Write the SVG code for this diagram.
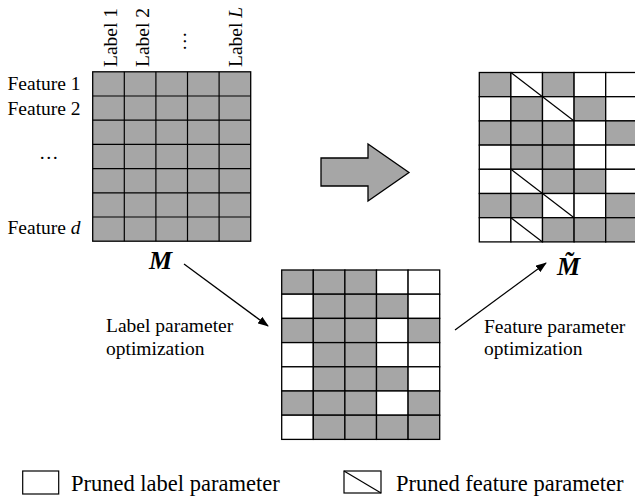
<svg xmlns="http://www.w3.org/2000/svg" width="635" height="498" viewBox="0 0 635 498">
<defs>
<style>
.t{font-family:"Liberation Serif","Times New Roman",serif;font-size:19.5px;fill:#000}
.lg{font-size:22.5px}
.it{font-style:italic}
.bm{font-family:"Liberation Serif","Times New Roman",serif;font-size:26px;font-weight:bold;font-style:italic;fill:#000}
.g{fill:#a6a6a6;stroke:#000;stroke-width:1.3}
.w{fill:#fff;stroke:#000;stroke-width:1.3}
.d{stroke:#000;stroke-width:1.2}
.c{stroke:#000;stroke-width:1.3;fill:none}
</style>
<marker id="ah" markerUnits="userSpaceOnUse" markerWidth="11" markerHeight="8" refX="10" refY="4" orient="auto">
<path d="M0,0 L11,4 L0,8 z" fill="#000"/>
</marker>
</defs>
<rect width="635" height="498" fill="#fff"/>

<g id="matrix-M">
<g transform="translate(92.7,71.8)">
<rect class="g" x="0" y="0" width="158" height="169.4"/>
<g class="d">
<line x1="31.6" y1="0" x2="31.6" y2="169.4"/><line x1="63.2" y1="0" x2="63.2" y2="169.4"/><line x1="94.8" y1="0" x2="94.8" y2="169.4"/><line x1="126.4" y1="0" x2="126.4" y2="169.4"/>
<line x1="0" y1="24.2" x2="158" y2="24.2"/><line x1="0" y1="48.4" x2="158" y2="48.4"/><line x1="0" y1="72.6" x2="158" y2="72.6"/><line x1="0" y1="96.8" x2="158" y2="96.8"/><line x1="0" y1="121" x2="158" y2="121"/><line x1="0" y1="145.2" x2="158" y2="145.2"/>
</g>
</g>
<text class="t" transform="translate(117,67) rotate(-90)">Label 1</text>
<text class="t" transform="translate(149,67) rotate(-90)">Label 2</text>
<text class="t" transform="translate(185.5,51) rotate(-90)">…</text>
<text class="t" transform="translate(242,67) rotate(-90)">Label <tspan class="it">L</tspan></text>
<text class="t" x="7.5" y="90">Feature 1</text>
<text class="t" x="7.5" y="115">Feature 2</text>
<text class="t" x="39" y="159">…</text>
<text class="t" x="7.5" y="233.5">Feature <tspan class="it">d</tspan></text>
<text class="bm" x="149" y="268.5">M</text>
</g>

<g id="big-arrow">
<polygon points="321,158 368,158 368,144 409,172.5 368,201 368,186 321,186" fill="#a6a6a6" stroke="#000" stroke-width="1.3"/>
</g>

<g id="matrix-mid" transform="translate(281.7,270)">
<rect class="g" x="0" y="0" width="31.6" height="24.2"/><rect class="g" x="31.6" y="0" width="31.6" height="24.2"/><rect class="g" x="63.2" y="0" width="31.6" height="24.2"/><rect class="w" x="94.8" y="0" width="31.6" height="24.2"/><rect class="w" x="126.4" y="0" width="31.6" height="24.2"/>
<rect class="w" x="0" y="24.2" width="31.6" height="24.2"/><rect class="g" x="31.6" y="24.2" width="31.6" height="24.2"/><rect class="g" x="63.2" y="24.2" width="31.6" height="24.2"/><rect class="g" x="94.8" y="24.2" width="31.6" height="24.2"/><rect class="w" x="126.4" y="24.2" width="31.6" height="24.2"/>
<rect class="g" x="0" y="48.4" width="31.6" height="24.2"/><rect class="g" x="31.6" y="48.4" width="31.6" height="24.2"/><rect class="g" x="63.2" y="48.4" width="31.6" height="24.2"/><rect class="w" x="94.8" y="48.4" width="31.6" height="24.2"/><rect class="g" x="126.4" y="48.4" width="31.6" height="24.2"/>
<rect class="w" x="0" y="72.6" width="31.6" height="24.2"/><rect class="g" x="31.6" y="72.6" width="31.6" height="24.2"/><rect class="g" x="63.2" y="72.6" width="31.6" height="24.2"/><rect class="w" x="94.8" y="72.6" width="31.6" height="24.2"/><rect class="w" x="126.4" y="72.6" width="31.6" height="24.2"/>
<rect class="w" x="0" y="96.8" width="31.6" height="24.2"/><rect class="g" x="31.6" y="96.8" width="31.6" height="24.2"/><rect class="g" x="63.2" y="96.8" width="31.6" height="24.2"/><rect class="g" x="94.8" y="96.8" width="31.6" height="24.2"/><rect class="w" x="126.4" y="96.8" width="31.6" height="24.2"/>
<rect class="g" x="0" y="121" width="31.6" height="24.2"/><rect class="g" x="31.6" y="121" width="31.6" height="24.2"/><rect class="g" x="63.2" y="121" width="31.6" height="24.2"/><rect class="w" x="94.8" y="121" width="31.6" height="24.2"/><rect class="g" x="126.4" y="121" width="31.6" height="24.2"/>
<rect class="w" x="0" y="145.2" width="31.6" height="24.2"/><rect class="g" x="31.6" y="145.2" width="31.6" height="24.2"/><rect class="g" x="63.2" y="145.2" width="31.6" height="24.2"/><rect class="g" x="94.8" y="145.2" width="31.6" height="24.2"/><rect class="g" x="126.4" y="145.2" width="31.6" height="24.2"/>
</g>

<g id="matrix-Mtilde">
<g transform="translate(479.3,72.5)">
<rect class="g" x="0" y="0" width="31.6" height="24.2"/><rect class="w" x="31.6" y="0" width="31.6" height="24.2"/><rect class="g" x="63.2" y="0" width="31.6" height="24.2"/><rect class="w" x="94.8" y="0" width="31.6" height="24.2"/><rect class="w" x="126.4" y="0" width="31.6" height="24.2"/>
<rect class="w" x="0" y="24.2" width="31.6" height="24.2"/><rect class="g" x="31.6" y="24.2" width="31.6" height="24.2"/><rect class="w" x="63.2" y="24.2" width="31.6" height="24.2"/><rect class="g" x="94.8" y="24.2" width="31.6" height="24.2"/><rect class="w" x="126.4" y="24.2" width="31.6" height="24.2"/>
<rect class="g" x="0" y="48.4" width="31.6" height="24.2"/><rect class="g" x="31.6" y="48.4" width="31.6" height="24.2"/><rect class="g" x="63.2" y="48.4" width="31.6" height="24.2"/><rect class="w" x="94.8" y="48.4" width="31.6" height="24.2"/><rect class="g" x="126.4" y="48.4" width="31.6" height="24.2"/>
<rect class="w" x="0" y="72.6" width="31.6" height="24.2"/><rect class="g" x="31.6" y="72.6" width="31.6" height="24.2"/><rect class="g" x="63.2" y="72.6" width="31.6" height="24.2"/><rect class="w" x="94.8" y="72.6" width="31.6" height="24.2"/><rect class="w" x="126.4" y="72.6" width="31.6" height="24.2"/>
<rect class="w" x="0" y="96.8" width="31.6" height="24.2"/><rect class="w" x="31.6" y="96.8" width="31.6" height="24.2"/><rect class="g" x="63.2" y="96.8" width="31.6" height="24.2"/><rect class="g" x="94.8" y="96.8" width="31.6" height="24.2"/><rect class="w" x="126.4" y="96.8" width="31.6" height="24.2"/>
<rect class="g" x="0" y="121" width="31.6" height="24.2"/><rect class="g" x="31.6" y="121" width="31.6" height="24.2"/><rect class="w" x="63.2" y="121" width="31.6" height="24.2"/><rect class="w" x="94.8" y="121" width="31.6" height="24.2"/><rect class="g" x="126.4" y="121" width="31.6" height="24.2"/>
<rect class="w" x="0" y="145.2" width="31.6" height="24.2"/><rect class="w" x="31.6" y="145.2" width="31.6" height="24.2"/><rect class="g" x="63.2" y="145.2" width="31.6" height="24.2"/><rect class="g" x="94.8" y="145.2" width="31.6" height="24.2"/><rect class="g" x="126.4" y="145.2" width="31.6" height="24.2"/>
<g class="d">
<line x1="31.6" y1="0" x2="63.2" y2="24.2"/>
<line x1="63.2" y1="24.2" x2="94.8" y2="48.4"/>
<line x1="31.6" y1="96.8" x2="63.2" y2="121"/>
<line x1="63.2" y1="121" x2="94.8" y2="145.2"/>
<line x1="31.6" y1="145.2" x2="63.2" y2="169.4"/>
</g>
</g>
<text class="bm" x="557" y="275">M̃</text>
</g>

<g id="captions">
<text class="t" x="106" y="332">Label parameter</text>
<text class="t" x="106" y="355">optimization</text>
<text class="t" x="484" y="333">Feature parameter</text>
<text class="t" x="484" y="355">optimization</text>
</g>

<g id="connectors">
<line class="c" x1="184" y1="264" x2="268" y2="326" marker-end="url(#ah)"/>
<line class="c" x1="455" y1="330" x2="546" y2="263" marker-end="url(#ah)"/>
</g>

<g id="legend">
<rect x="22.7" y="471" width="36" height="23" fill="#fff" stroke="#000" stroke-width="1.2"/>
<text class="t lg" x="71" y="491">Pruned label parameter</text>
<rect x="344" y="471" width="37" height="22" fill="#fff" stroke="#000" stroke-width="1.2"/>
<line class="d" x1="344" y1="471" x2="381" y2="493"/>
<text class="t lg" x="396" y="491">Pruned feature parameter</text>
</g>
</svg>
